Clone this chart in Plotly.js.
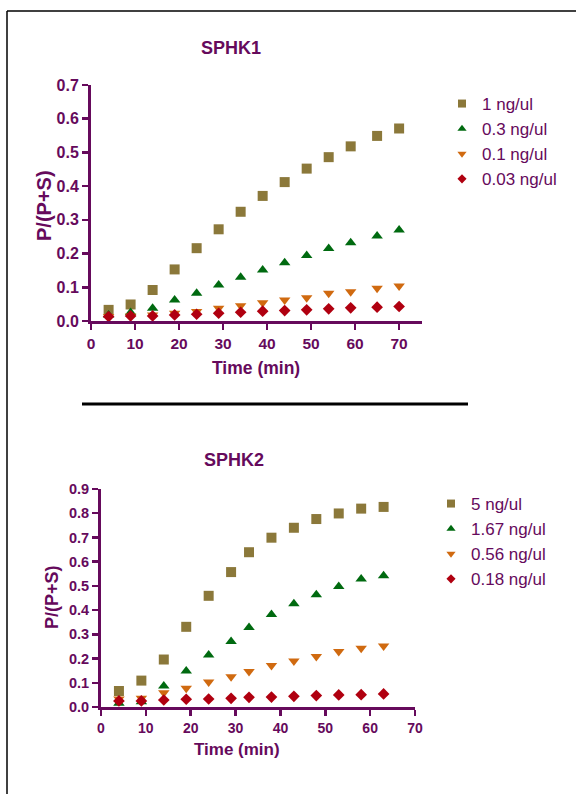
<!DOCTYPE html>
<html>
<head>
<meta charset="utf-8">
<script src="https://cdn.plot.ly/plotly-3.0.1.min.js"></script>
<style>html,body{margin:0;padding:0;background:#fff;}#chart{width:576px;height:794px;}</style>
</head>
<body>
<div id="chart"></div>
<script>
// ---- Data ----
var time1 = [4, 9, 14, 19, 24, 29, 34, 39, 44, 49, 54, 59, 65, 70];
var sphk1_1 = [0.033, 0.049, 0.092, 0.153, 0.216, 0.272, 0.324, 0.371, 0.412, 0.452, 0.486, 0.518, 0.549, 0.571];
var sphk1_03 = [0.018, 0.025, 0.038, 0.062, 0.082, 0.107, 0.130, 0.151, 0.173, 0.194, 0.215, 0.232, 0.252, 0.270];
var sphk1_01 = [0.013, 0.015, 0.018, 0.023, 0.028, 0.038, 0.045, 0.054, 0.062, 0.069, 0.082, 0.087, 0.097, 0.104];
var sphk1_003 = [0.013, 0.015, 0.015, 0.018, 0.020, 0.023, 0.026, 0.029, 0.031, 0.033, 0.036, 0.039, 0.041, 0.043];
var labels1 = ['1 ng/ul', '0.3 ng/ul', '0.1 ng/ul', '0.03 ng/ul'];

var time2 = [4, 9, 14, 19, 24, 29, 33, 38, 43, 48, 53, 58, 63];
var sphk2_5 = [0.066, 0.109, 0.196, 0.331, 0.459, 0.557, 0.639, 0.699, 0.740, 0.776, 0.799, 0.819, 0.826];
var sphk2_167 = [0.015, 0.022, 0.087, 0.149, 0.215, 0.270, 0.328, 0.382, 0.426, 0.463, 0.497, 0.528, 0.542];
var sphk2_056 = [0.033, 0.036, 0.059, 0.077, 0.103, 0.125, 0.147, 0.171, 0.190, 0.208, 0.229, 0.243, 0.252];
var sphk2_018 = [0.025, 0.025, 0.029, 0.032, 0.033, 0.036, 0.040, 0.041, 0.044, 0.047, 0.050, 0.051, 0.054];
var labels2 = ['5 ng/ul', '1.67 ng/ul', '0.56 ng/ul', '0.18 ng/ul'];

var xTicks1 = [0, 10, 20, 30, 40, 50, 60, 70];
var yTicks1 = [0, 0.1, 0.2, 0.3, 0.4, 0.5, 0.6, 0.7];
var xTicks2 = [0, 10, 20, 30, 40, 50, 60, 70];
var yTicks2 = [0, 0.1, 0.2, 0.3, 0.4, 0.5, 0.6, 0.7, 0.8, 0.9];

// ---- Styles ----
var W = 576, H = 794;
var PURPLE = '#660a5c';
var FONT = '"Liberation Sans", Arial, Helvetica, sans-serif';
var colors = ['#8b783a', '#006a10', '#d06a10', '#b00010'];
var symbols = ['square', 'triangle-up', 'triangle-down', 'diamond'];
var sizes = [10, 10, 10, 9];
var legSizes = [8, 8, 8, 7];

function px(x) { return x / W; }
function py(y) { return (H - y) / H; }

var traces = [];
var set1 = [sphk1_1, sphk1_03, sphk1_01, sphk1_003];
var set2 = [sphk2_5, sphk2_167, sphk2_056, sphk2_018];
function addSet(xs, ys, labels, xa, ya, leg) {
  for (var i = 0; i < 4; i++) {
    traces.push({
      x: xs, y: ys[i], type: 'scatter', mode: 'markers', name: labels[i],
      xaxis: xa, yaxis: ya, showlegend: false, cliponaxis: false,
      marker: {symbol: symbols[i], size: sizes[i], color: colors[i], line: {width: 0}}
    });
  }
  // legend entries (smaller symbols, as in the reference legend)
  for (var k = 0; k < 4; k++) {
    traces.push({
      x: [null], y: [null], type: 'scatter', mode: 'markers', name: labels[k],
      xaxis: xa, yaxis: ya, legend: leg, showlegend: true,
      marker: {symbol: symbols[k], size: legSizes[k], color: colors[k], line: {width: 0}}
    });
  }
}
addSet(time1, set1, labels1, 'x', 'y', 'legend');
addSet(time2, set2, labels2, 'x2', 'y2', 'legend2');

function axis(extra, fs) {
  var a = {
    showgrid: false, zeroline: false, showline: true, linecolor: PURPLE, linewidth: 3,
    ticks: 'outside', ticklen: 6, tickwidth: 2.5, tickcolor: PURPLE,
    tickfont: {family: FONT, size: fs, color: PURPLE, weight: 'bold'},
    fixedrange: true
  };
  for (var k in extra) a[k] = extra[k];
  return a;
}

var legendFont = {family: FONT, size: 17, color: PURPLE};

var layout = {
  width: W, height: H,
  margin: {l: 0, r: 0, t: 0, b: 0},
  paper_bgcolor: '#ffffff', plot_bgcolor: '#ffffff',
  showlegend: true,
  xaxis: axis({domain: [px(91), px(422)], range: [0, 75.2], tickvals: xTicks1, anchor: 'y', tickformat: 'd'}, 15.5),
  yaxis: axis({domain: [py(321), py(85)], range: [0, 0.7], tickvals: yTicks1, anchor: 'x', tickformat: '.1f'}, 16),
  xaxis2: axis({domain: [px(101), px(415)], range: [0, 70], tickvals: xTicks2, anchor: 'y2', tickformat: 'd'}, 14),
  yaxis2: axis({domain: [py(707), py(489)], range: [0, 0.9], tickvals: yTicks2, anchor: 'x2', tickformat: '.1f'}, 14.5),
  legend: {x: px(442), y: py(86), xanchor: 'left', yanchor: 'top', font: legendFont,
    bgcolor: 'rgba(0,0,0,0)'},
  legend2: {x: px(431), y: py(486), xanchor: 'left', yanchor: 'top', font: legendFont,
    bgcolor: 'rgba(0,0,0,0)'},
  annotations: [
    {text: 'SPHK1', xref: 'paper', yref: 'paper', x: px(231), y: py(48), xanchor: 'center', yanchor: 'middle', showarrow: false,
      font: {family: FONT, size: 18, color: PURPLE, weight: 'bold'}},
    {text: 'SPHK2', xref: 'paper', yref: 'paper', x: px(234), y: py(460), xanchor: 'center', yanchor: 'middle', showarrow: false,
      font: {family: FONT, size: 18, color: PURPLE, weight: 'bold'}},
    {text: 'Time (min)', xref: 'paper', yref: 'paper', x: px(256), y: py(368), xanchor: 'center', yanchor: 'middle', showarrow: false,
      font: {family: FONT, size: 17.5, color: PURPLE, weight: 'bold'}},
    {text: 'Time (min)', xref: 'paper', yref: 'paper', x: px(237), y: py(749), xanchor: 'center', yanchor: 'middle', showarrow: false,
      font: {family: FONT, size: 17, color: PURPLE, weight: 'bold'}},
    {text: 'P/(P+S)', xref: 'paper', yref: 'paper', x: px(44), y: py(206), xanchor: 'center', yanchor: 'middle', showarrow: false, textangle: -90,
      font: {family: FONT, size: 20, color: PURPLE, weight: 'bold'}},
    {text: 'P/(P+S)', xref: 'paper', yref: 'paper', x: px(52), y: py(597), xanchor: 'center', yanchor: 'middle', showarrow: false, textangle: -90,
      font: {family: FONT, size: 18, color: PURPLE, weight: 'bold'}}
  ],
  shapes: [
    {type: 'line', xref: 'paper', yref: 'paper', x0: px(7), x1: px(580), y0: py(11), y1: py(11), line: {color: '#000', width: 1.5}},
    {type: 'line', xref: 'paper', yref: 'paper', x0: px(7), x1: px(7), y0: py(11), y1: py(800), line: {color: '#000', width: 1.5}},
    {type: 'line', xref: 'paper', yref: 'paper', x0: px(82), x1: px(468), y0: py(404), y1: py(404), line: {color: '#000', width: 3}}
  ]
};

Plotly.newPlot('chart', traces, layout, {displayModeBar: false, staticPlot: true});
</script>
</body>
</html>
